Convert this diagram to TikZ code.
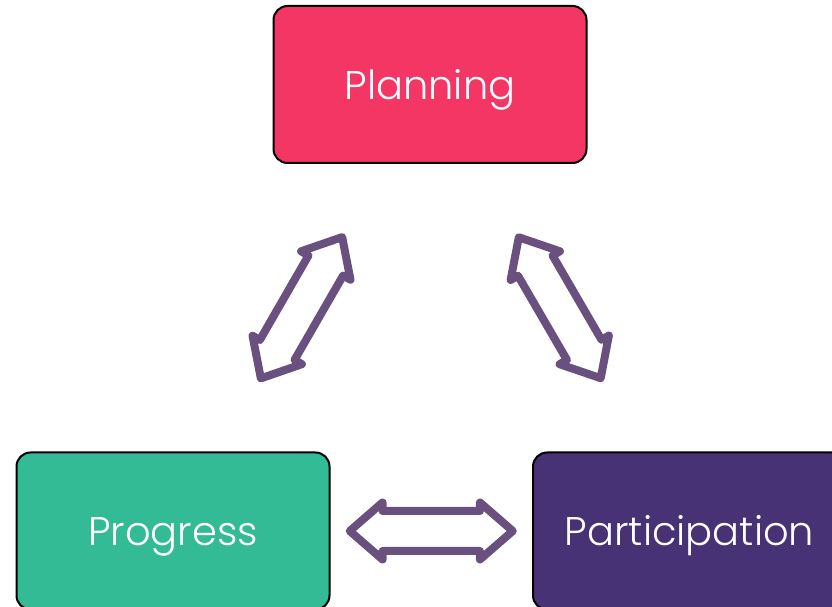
\documentclass[tikz,border=0pt]{standalone}
\usepackage{fontspec}
\setmainfont{Poppins}[UprightFont=* Light]
\usetikzlibrary{shapes.arrows}
\definecolor{planpink}{RGB}{244,54,100}
\definecolor{progteal}{RGB}{51,187,149}
\definecolor{partpurple}{RGB}{71,50,118}
\definecolor{arrowpurple}{RGB}{106,80,126}
\tikzset{
  stage/.style={draw=black, line width=2pt, rounded corners=14pt,
    minimum width=313pt, minimum height=157pt, inner sep=0pt,
    text=white, font=\fontsize{40}{48}\selectfont,
    text height=30pt, text depth=0pt},
  linkarrow/.style={double arrow, draw=arrowpurple, fill=white,
    line width=8pt, line join=round, inner xsep=0pt, inner ysep=16pt,
    minimum height=163pt,
    double arrow head extend=8.5pt, double arrow tip angle=82}
}

\begin{document}
\begin{tikzpicture}[x=1pt,y=1pt]
\useasboundingbox (0,0) rectangle (832,607);
\clip (0,0) rectangle (832,607);

% Stages
\node[stage, fill=planpink]   (plan) at (430,522.5) {Planning};
\node[stage, fill=progteal]   (prog) at (173,76)    {Progress};
\node[stage, fill=partpurple] (part) at (689.5,76)  {Participation};

% Links between stages
\path (prog.center) -- node[linkarrow, sloped] {} (plan.center);
\path (plan.center) -- node[linkarrow, sloped] {} (part.center);
\path (prog.center) -- node[linkarrow, sloped] {} (part.center);

\end{tikzpicture}
\end{document}
